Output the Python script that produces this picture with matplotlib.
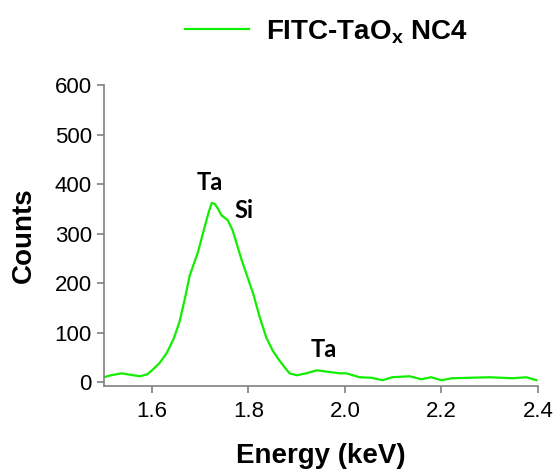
import matplotlib.pyplot as plt
import numpy as np

# EDS spectrum, FITC-TaOx NC4
energy = [1.500, 1.515, 1.537, 1.555, 1.575, 1.590, 1.600, 1.615, 1.630, 1.645,
          1.657, 1.668, 1.678, 1.695, 1.709, 1.718, 1.724, 1.730, 1.737, 1.744,
          1.757, 1.767, 1.776, 1.786, 1.798, 1.810, 1.823, 1.837, 1.850, 1.864,
          1.875, 1.885, 1.900, 1.920, 1.941, 1.965, 1.989, 2.003, 2.030, 2.055,
          2.078, 2.098, 2.115, 2.134, 2.158, 2.179, 2.200, 2.222, 2.260, 2.299,
          2.325, 2.347, 2.376, 2.397]
counts = [10, 14, 18, 15, 12, 16, 24, 38, 58, 88,
          122, 168, 215, 262, 313, 345, 362, 360, 350, 337,
          327, 307, 278, 246, 212, 178, 132, 90, 64, 44,
          30, 18, 14, 18, 24, 21, 18, 18, 10, 9,
          4, 10, 11, 12, 6, 10, 4, 8, 9, 10,
          9, 8, 10, 4]

peak_labels = ['Ta', 'Si', 'Ta']
peak_x = [1.72, 1.79, 1.955]
peak_y = [404, 347, 67]

fig = plt.figure(figsize=(5.58, 4.75), dpi=100)
ax = fig.add_axes([0.186, 0.187, 0.778, 0.634])

ax.plot(energy, counts, color='#11ee00', linewidth=1.6, label='FITC-TaO$_\\mathregular{x}$ NC4')

for lab, px, py in zip(peak_labels, peak_x, peak_y):
    ax.text(px, py, lab, ha='center', va='center', fontsize=17,
            fontweight='bold', family='Lato')

ax.set_xlim(1.5, 2.4)
ax.set_ylim(-8, 600)
ax.set_xticks([1.6, 1.8, 2.0, 2.2, 2.4])
ax.set_xticklabels(['1.6', '1.8', '2.0', '2.2', '2.4'])
ax.set_yticks(np.arange(0, 601, 100))

for s in ['top', 'right']:
    ax.spines[s].set_visible(False)
for s in ['left', 'bottom']:
    ax.spines[s].set_color('#808080')
    ax.spines[s].set_linewidth(1.2)
ax.tick_params(direction='out', length=5, width=1.2, color='#808080',
               labelsize=16, labelcolor='black')
ax.tick_params(axis='x', pad=6)
for t in ax.get_xticklabels() + ax.get_yticklabels():
    t.set_family('Liberation Sans')

ax.set_xlabel('Energy (keV)', fontsize=20, fontweight='bold', family='Liberation Sans', labelpad=15)
ax.set_ylabel('Counts', fontsize=20, fontweight='bold', family='Liberation Sans', labelpad=13)

fig.legend(loc='center', bbox_to_anchor=(0.585, 0.933), frameon=False,
           handlelength=2.3, handletextpad=0.6,
           prop={'family': 'Liberation Sans', 'weight': 'bold', 'size': 20})

fig.savefig('out.png', dpi=100)
